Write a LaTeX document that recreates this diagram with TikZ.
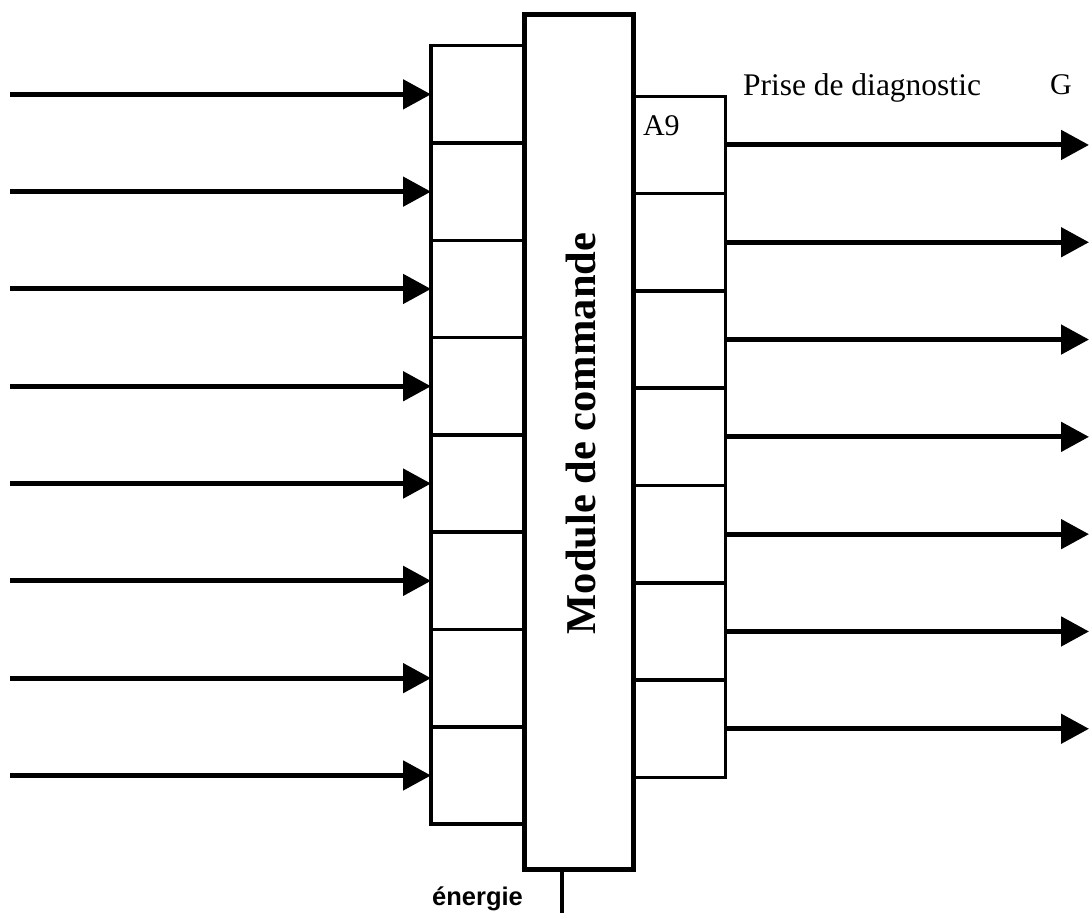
\documentclass[tikz,border=0pt]{standalone}
\usepackage{fontspec}
\setmainfont{Liberation Serif}
\newfontfamily\arialfont{Liberation Sans}
\usetikzlibrary{arrows.meta}
\begin{document}
\begin{tikzpicture}[x=1pt,y=-1pt,
  cellL/.style={draw, line width=3.5pt, minimum width=93pt, minimum height=97.3pt, inner sep=0pt, outer sep=0pt},
  cellR/.style={draw, line width=3.5pt, minimum width=92.5pt, minimum height=97.3pt, inner sep=0pt, outer sep=0pt},
  modbox/.style={draw, line width=5pt, minimum width=109pt, minimum height=855pt, inner sep=0pt, outer sep=0pt},
  sig/.style={line width=5pt, -{Triangle[length=28pt,width=29pt]}},
  lbl/.style={inner sep=0pt, outer sep=0pt, font=\fontsize{30}{36}\selectfont},
]
\useasboundingbox (0,0) rectangle (1089,913);
% left cells
\foreach \i in {1,...,8} {
  \node[cellL] (L\i) at (477.5, {45.7+97.3*(\i-0.5)}) {};
  \coordinate (in\i) at (10, {45.7+97.3*(\i-0.5)});
  \draw[sig] (in\i) -- (L\i.west);
}
% right cells
\foreach \i in {1,...,7} {
  \node[cellR] (R\i) at (679.25, {96.3+97.3*(\i-0.5)}) {};
  \coordinate (out\i) at (1089, {96.3+97.3*(\i-0.5)});
  \draw[sig] (R\i.east) -- (out\i);
}
% module
\node[modbox] (M) at (578.5, 441.5) {};
\node[inner sep=0pt, rotate=90, anchor=base, font=\bfseries\fontsize{42.5}{50}\selectfont] (Mt) at (595, 433.5) {Module de commande};
% energie
\coordinate (en) at (562, 913);
\draw[line width=3.5pt] (en |- M.south) -- (en);
\node[inner sep=0pt, anchor=base west, font=\arialfont\bfseries\fontsize{25.5}{30}\selectfont] (ener) at (432, 905) {énergie};
% labels
\node[lbl, anchor=base west] (A9) at (643, 135) {A9};
\node[lbl, anchor=base west, font=\fontsize{31.5}{38}\selectfont] (diag) at (743, 95) {Prise de diagnostic};
\node[lbl, anchor=base west] (G) at (1050, 94) {G};
\end{tikzpicture}
\end{document}
